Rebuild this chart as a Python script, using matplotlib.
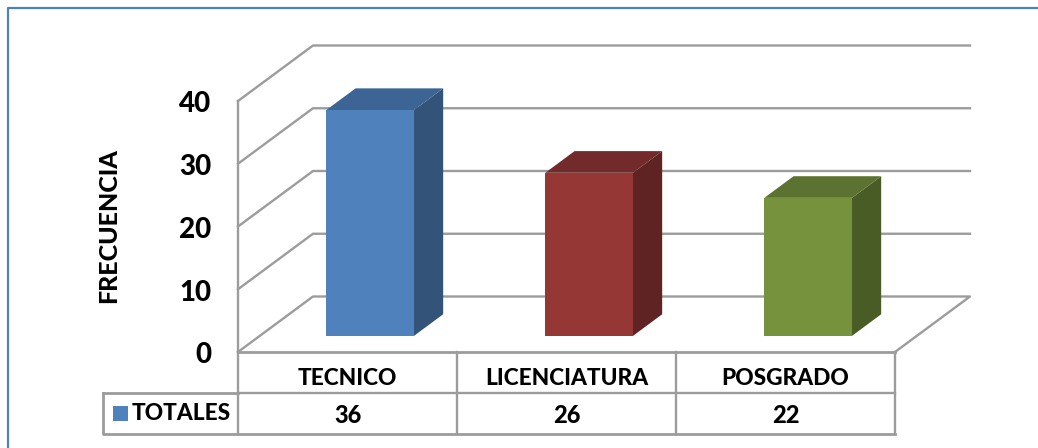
import matplotlib
matplotlib.use("Agg")
import matplotlib.pyplot as plt
from matplotlib.patches import Polygon, Rectangle

categorias = ["TECNICO", "LICENCIATURA", "POSGRADO"]
totales = [36, 26, 22]
serie = "TOTALES"
ticks_y = [0, 10, 20, 30, 40]
eje_y = "FRECUENCIA"

colores = ["#4f81bd", "#953735", "#76923c"]
techos = ["#3c6494", "#722b2a", "#5c7230"]
lados = ["#335478", "#5e2322", "#4a5c26"]
gris = "#9c9c9c"

plt.rcParams["font.family"] = "Lato"
plt.rcParams["font.weight"] = "bold"

W, H = 1038, 448
fig = plt.figure(figsize=(W / 100, H / 100), dpi=100)

# Marco azul de la pagina
fondo = fig.add_axes([0, 0, 1, 1])
fondo.set_xlim(0, W)
fondo.set_ylim(H, 0)
fondo.axis("off")
fondo.plot([8, 8, W], [H, 8, 8], color="#4f81bd", lw=1.6, solid_capstyle="butt")

# Plano frontal del grafico: x en categorias, y en frecuencia
x0, x1, y_bajo, y_alto = 238, 895, 352, 101
ax = fig.add_axes([x0 / W, 1 - y_bajo / H, (x1 - x0) / W, (y_bajo - y_alto) / H])
ax.set_xlim(0, 3)
ax.set_ylim(0, 40)
ax.axis("off")

# Profundidad en unidades de datos
prof_x = 75 / 219
prof_y = 55.5 / (251 / 40)


def p(x, y, z=0.0):
    return (x + prof_x * z, y + prof_y * z)


for t in ticks_y:
    linea = [p(0, t), p(0, t, 1), p(3, t, 1)]
    if t == 0:
        linea.append(p(3, t))
    ax.plot(*zip(*linea), color=gris, lw=1.7, clip_on=False, zorder=1)
    ax.text(-0.12, t - 0.55, str(t), ha="right", va="center", fontsize=20, fontweight="black", clip_on=False)

# Barras 3D
ancho = 0.4
z1, z2 = 0.29, 0.68
for i, v in enumerate(totales):
    a, b = i + 0.5 - ancho / 2 + 0.004, i + 0.5 + ancho / 2 + 0.004
    frente = [p(a, 0, z1), p(b, 0, z1), p(b, v, z1), p(a, v, z1)]
    techo = [p(a, v, z1), p(b, v, z1), p(b, v, z2), p(a, v, z2)]
    lado = [p(b, 0, z1), p(b, 0, z2), p(b, v, z2), p(b, v, z1)]
    ax.add_patch(Polygon(lado, fc=lados[i], ec="none", clip_on=False, zorder=3))
    ax.add_patch(Polygon(techo, fc=techos[i], ec="none", clip_on=False, zorder=3))
    ax.add_patch(Polygon(frente, fc=colores[i], ec="none", clip_on=False, zorder=4))

# Tabla de datos debajo del eje, en la misma escala
fila = 41 / (251 / 40)
izq = -135 / 219
ax.plot([0, 0], [0, 40], color=gris, lw=1.7, clip_on=False, zorder=2)
ax.plot([0, 3], [0, 0], color=gris, lw=2, clip_on=False, zorder=2)
ax.plot([0, 3], [-fila, -fila], color=gris, lw=1.7, clip_on=False)
ax.plot([izq, izq, 3], [-fila, -2 * fila, -2 * fila], color=gris, lw=2, clip_on=False)
ax.plot([izq, 0], [-fila, -fila], color=gris, lw=2, clip_on=False)
for c in range(4):
    ax.plot([c, c], [0, -2 * fila], color=gris, lw=1.7, clip_on=False)

for i, cat in enumerate(categorias):
    ax.text(i + 0.5, -fila * 0.65, cat, ha="center", va="center", fontsize=16.3, fontweight="black", clip_on=False)
    ax.text(i + 0.5, -fila * 1.56, str(totales[i]), ha="center", va="center", fontsize=17, fontweight="black", clip_on=False)

# Clave de la leyenda
ax.add_patch(Rectangle((izq + 0.045, -fila * 1.5 - 1.15), 15 / 219, 2.4, fc=colores[0], ec="none", clip_on=False))
ax.text(-0.035, -fila * 1.5, serie, ha="right", va="center", fontsize=16.3, fontweight="black", clip_on=False)

fig.text(109 / W, 1 - 226 / H, eje_y, rotation=90, ha="center", va="center", fontsize=18, fontweight="black")

fig.savefig("out.png", dpi=100)
